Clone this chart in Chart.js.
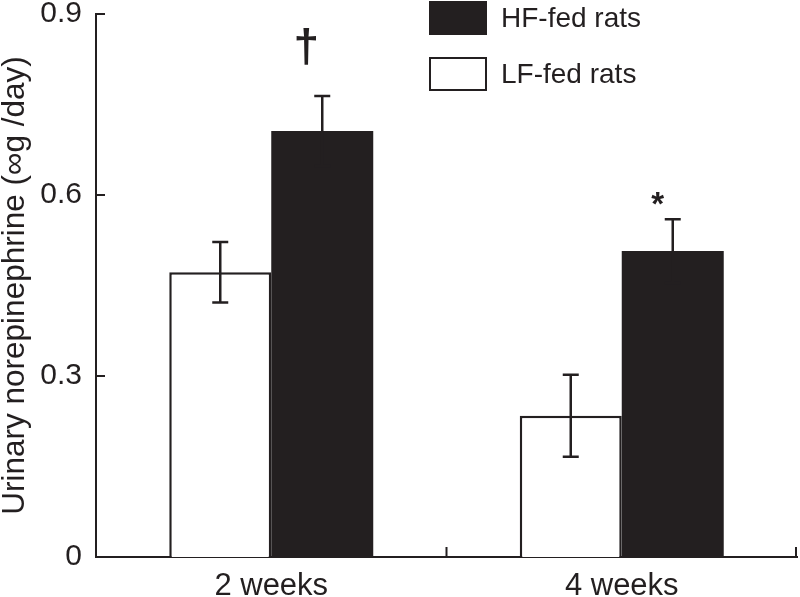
<!DOCTYPE html>
<html>
<head>
<meta charset="utf-8">
<script src="https://cdn.jsdelivr.net/npm/chart.js@4.4.1/dist/chart.umd.min.js"></script>
<style>
  html, body { margin: 0; padding: 0; background: #fff; }
  #wrap { width: 800px; height: 597px; }
</style>
</head>
<body>
<div id="wrap"><canvas id="chart"></canvas></div>
<script>
// datos
const categories = ['2 weeks', '4 weeks'];
const lfValues = [0.472, 0.234];
const lfErrors = [0.050, 0.068];
const hfValues = [0.706, 0.507];
const hfErrors = [0.058, 0.053];
const hfMarks = ['\u2020', '*'];
const yTickValues = [0, 0.3, 0.6, 0.9];

const INK = '#231f20';
const FONT = 'Liberation Sans, Arial, Helvetica, sans-serif';

// barras de error, marcas de significancia, ticks hacia dentro y leyenda
const extrasPlugin = {
    id: 'extras',
    afterDatasetsDraw(chart) {
        const ctx = chart.ctx;
        const y = chart.scales.y;
        const area = chart.chartArea;
        ctx.save();
        ctx.strokeStyle = INK;
        ctx.lineWidth = 2.5;

        // error bars
        chart.data.datasets.forEach((ds, di) => {
            const meta = chart.getDatasetMeta(di);
            meta.data.forEach((bar, i) => {
                const v = ds.data[i], e = ds.errors[i];
                const top = y.getPixelForValue(v + e);
                const bot = y.getPixelForValue(v - e);
                ctx.strokeStyle = INK;
                ctx.beginPath();
                ctx.moveTo(bar.x, top);
                ctx.lineTo(bar.x, bot);
                ctx.moveTo(bar.x - 8, top);
                ctx.lineTo(bar.x + 8, top);
                ctx.moveTo(bar.x - 8, bot);
                ctx.lineTo(bar.x + 8, bot);
                ctx.stroke();

                if (ds.marks) {
                    ctx.fillStyle = INK;
                    ctx.textAlign = 'center';
                    ctx.textBaseline = 'alphabetic';
                    if (ds.marks[i] === '*') {
                        ctx.font = 'bold 33px ' + FONT;
                        ctx.fillText(ds.marks[i], bar.x - 15, top - 4);
                    } else {
                        ctx.font = 'bold 46px ' + FONT;
                        ctx.fillText(ds.marks[i], bar.x - 16, top - 34);
                    }
                }
            });
        });

        // y ticks pointing in
        ctx.lineWidth = 2;
        yTickValues.forEach(t => {
            const py = y.getPixelForValue(t);
            ctx.beginPath();
            ctx.moveTo(area.left, py);
            ctx.lineTo(area.left + 9, py);
            ctx.stroke();
        });

        // x ticks between categories, pointing up
        const n = categories.length;
        for (let i = 1; i <= n; i++) {
            const px = Math.min(area.left + i * (area.right - area.left) / n, area.right - 1);
            ctx.beginPath();
            ctx.moveTo(px, area.bottom);
            ctx.lineTo(px, area.bottom - 10);
            ctx.stroke();
        }

        // legend (HF first)
        const order = [1, 0];
        ctx.font = '28px ' + FONT;
        ctx.textAlign = 'left';
        ctx.textBaseline = 'middle';
        order.forEach((di, k) => {
            const ds = chart.data.datasets[di];
            const by = 2 + k * 56;
            ctx.fillStyle = ds.backgroundColor;
            ctx.fillRect(430, by, 56, 32);
            ctx.lineWidth = 2;
            ctx.strokeStyle = INK;
            ctx.strokeRect(430, by, 56, 32);
            ctx.fillStyle = INK;
            ctx.fillText(ds.label, 501, by + 17);
        });
        ctx.restore();
    }
};

new Chart(document.getElementById('chart').getContext('2d'), {
    type: 'bar',
    data: {
        labels: categories,
        datasets: [
            {
                label: 'LF-fed rats',
                data: lfValues,
                errors: lfErrors,
                backgroundColor: '#ffffff',
                borderColor: INK,
                borderWidth: 2.5,
                borderSkipped: 'bottom',
                categoryPercentage: 0.582,
                barPercentage: 1.0
            },
            {
                label: 'HF-fed rats',
                data: hfValues,
                errors: hfErrors,
                marks: hfMarks,
                backgroundColor: INK,
                borderColor: INK,
                borderWidth: 0,
                categoryPercentage: 0.582,
                barPercentage: 1.0
            }
        ]
    },
    options: {
        responsive: true,
        maintainAspectRatio: false,
        animation: false,
        layout: { padding: { top: 14, right: 3, left: 0, bottom: 0 } },
        plugins: {
            legend: { display: false },
            tooltip: { enabled: false }
        },
        scales: {
            x: {
                grid: { display: false, drawTicks: false },
                border: { display: true, color: INK, width: 2 },
                ticks: {
                    color: INK,
                    font: { family: FONT, size: 31 },
                    padding: 11
                },
                afterFit: s => {
                    s.height = 40;
                    s.paddingLeft = 0;
                    s.paddingRight = 0;
                }
            },
            y: {
                min: 0,
                max: 0.9,
                afterBuildTicks: s => { s.ticks = yTickValues.map(v => ({ value: v })); },
                grid: { display: false, drawTicks: false },
                border: { display: true, color: INK, width: 2 },
                ticks: {
                    color: INK,
                    font: { family: FONT, size: 30 },
                    padding: 14,
                    callback: v => (v === 0 ? '0' : String(v))
                },
                title: {
                    display: true,
                    text: 'Urinary norepinephrine (\u221Eg /day)',
                    color: INK,
                    font: { family: FONT, size: 31.5, lineHeight: 1.0 },
                    padding: 0
                },
                afterFit: s => {
                    s.width = 96;
                    s.paddingTop = 0;
                    s.paddingBottom = 0;
                }
            }
        }
    },
    plugins: [extrasPlugin]
});
</script>
</body>
</html>
